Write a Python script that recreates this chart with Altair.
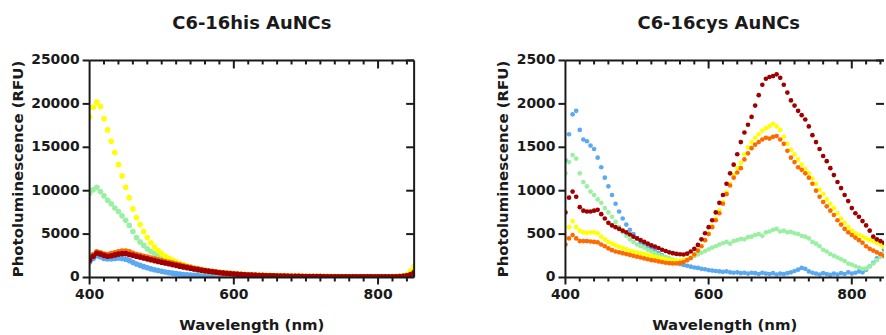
import altair as alt
import pandas as pd

wl = list(range(400, 855, 5))  # 91 wavelengths, nm

series_names = ["s1", "s2", "s3", "s4", "s5"]
series_colors = ["#5aa9f2", "#9af0a2", "#ffff00", "#ff6a00", "#a00000"]

# ---------------- C6-16his AuNCs ----------------
his_blue = [1800, 2200, 2500, 2400, 2200, 2150, 2150, 2200, 2250, 2200,
            2100, 1950, 1750, 1550, 1400, 1250, 1120, 1000, 900, 800,
            710, 630, 560, 500, 440, 390, 350, 310, 280, 250,
            220, 200, 180, 165, 150, 135, 120, 110, 100, 92,
            85, 80, 75, 70, 66, 62, 60, 58, 55, 53,
            52, 50, 49, 48, 47, 46, 45, 44, 43, 42,
            42, 41, 40, 40, 39, 39, 38, 38, 38, 37,
            37, 37, 36, 36, 36, 36, 35, 35, 35, 35,
            35, 36, 37, 40, 45, 55, 70, 100, 160, 250,
            350]
his_green = [9700, 10100, 10400, 9900, 9400, 8900, 8500, 8000, 7600, 7100,
             6600, 6000, 5300, 4600, 4100, 3700, 3300, 3000, 2750, 2500,
             2300, 2100, 1900, 1720, 1560, 1420, 1290, 1170, 1060, 960,
             870, 790, 720, 660, 600, 550, 500, 460, 420, 390,
             360, 335, 310, 290, 270, 255, 240, 225, 210, 200,
             180, 170, 160, 150, 145, 140, 135, 130, 125, 120,
             115, 110, 108, 105, 102, 100, 98, 96, 94, 92,
             90, 88, 87, 86, 85, 84, 83, 82, 81, 80,
             80, 80, 82, 85, 90, 100, 120, 160, 250, 450,
             800]
his_yellow = [18500, 19600, 20200, 19700, 18300, 17000, 15700, 14400, 13000, 11700,
              10400, 9200, 7900, 6900, 6100, 5300, 4600, 4000, 3500, 3100,
              2750, 2450, 2200, 2000, 1800, 1620, 1460, 1320, 1200, 1090,
              990, 900, 820, 750, 690, 630, 580, 540, 500, 470,
              440, 410, 380, 355, 330, 310, 290, 270, 255, 240,
              225, 210, 200, 190, 180, 170, 160, 150, 145, 140,
              135, 130, 125, 120, 115, 112, 110, 108, 105, 102,
              100, 98, 96, 94, 92, 90, 88, 87, 86, 85,
              84, 84, 86, 90, 96, 108, 130, 180, 350, 750,
              1300]
his_orange = [2200, 2600, 2950, 2850, 2700, 2650, 2750, 2850, 2950, 3050,
              3050, 2950, 2800, 2650, 2550, 2450, 2350, 2250, 2150, 2050,
              1950, 1850, 1750, 1650, 1550, 1450, 1350, 1250, 1160, 1070,
              990, 910, 840, 770, 710, 650, 600, 550, 510, 470,
              430, 400, 370, 340, 315, 295, 275, 255, 240, 225,
              210, 195, 185, 175, 165, 155, 148, 140, 134, 128,
              122, 116, 110, 106, 102, 98, 95, 92, 90, 88,
              86, 84, 82, 80, 79, 78, 77, 76, 75, 74,
              74, 74, 75, 78, 82, 90, 105, 135, 200, 350,
              600]
his_darkred = [2000, 2450, 2800, 2700, 2550, 2450, 2500, 2600, 2700, 2750,
               2750, 2650, 2550, 2450, 2350, 2250, 2150, 2050, 1950, 1850,
               1760, 1670, 1580, 1490, 1400, 1310, 1220, 1140, 1060, 980,
               910, 840, 770, 710, 650, 600, 550, 505, 465, 430,
               400, 370, 340, 315, 290, 270, 252, 236, 222, 208,
               195, 183, 172, 162, 153, 145, 138, 131, 125, 119,
               114, 109, 104, 100, 96, 93, 90, 88, 86, 84,
               82, 80, 78, 77, 76, 75, 74, 73, 72, 71,
               70, 70, 72, 75, 80, 88, 100, 130, 190, 320,
               550]

# ---------------- C6-16cys AuNCs ----------------
cys_blue = [1350, 1650, 1880, 1920, 1700, 1590, 1570, 1520, 1480, 1380,
            1270, 1150, 1050, 950, 850, 760, 680, 610, 550, 500,
            450, 410, 380, 355, 330, 305, 280, 255, 230, 205,
            185, 170, 155, 145, 135, 125, 115, 110, 100, 95,
            85, 80, 75, 70, 65, 70, 60, 55, 60, 50,
            55, 45, 55, 50, 40, 55, 45, 40, 50, 35,
            45, 40, 50, 60, 75, 90, 110, 100, 70, 55,
            45, 35, 50, 40, 30, 45, 35, 50, 40, 60,
            45, 55, 70, 60, 90, 130, 170, 220, 270, 320,
            380]
cys_green = [1200, 1330, 1410, 1370, 1200, 1100, 1050, 990, 950, 900,
             860, 800, 750, 700, 640, 580, 520, 480, 440, 410,
             380, 360, 345, 320, 300, 280, 260, 245, 235, 220,
             205, 195, 185, 185, 200, 225, 245, 265, 285, 305,
             325, 345, 360, 380, 395, 410, 390, 420, 430, 445,
             440, 465, 470, 490, 500, 480, 520, 530, 550, 560,
             530, 540, 520, 525, 510, 500, 480, 470, 450, 410,
             390, 360, 320, 300, 270, 250, 230, 210, 190, 160,
             150, 130, 115, 100, 105, 130, 160, 200, 240, 280,
             320]
cys_yellow = [460, 580, 650, 580, 540, 520, 515, 520, 520, 510,
              470, 440, 410, 390, 370, 355, 340, 325, 310, 300,
              290, 280, 270, 260, 250, 240, 230, 220, 210, 200,
              195, 192, 195, 200, 210, 230, 265, 310, 365, 430,
              510, 590, 680, 770, 870, 980, 1080, 1180, 1260, 1320,
              1420, 1500, 1560, 1610, 1650, 1690, 1720, 1740, 1770, 1740,
              1700, 1620, 1540, 1470, 1420, 1360, 1300, 1250, 1200, 1140,
              1080, 1010, 960, 900, 850, 800, 740, 680, 630, 580,
              540, 510, 490, 470, 450, 430, 420, 400, 380, 350,
              330]
cys_orange = [380, 450, 490, 450, 420, 420, 420, 415, 410, 405,
              380, 360, 335, 315, 300, 290, 280, 270, 260, 250,
              240, 230, 220, 210, 200, 195, 185, 178, 170, 165,
              162, 162, 168, 178, 200, 225, 265, 310, 360, 430,
              500, 580, 660, 740, 850, 960, 1060, 1150, 1210, 1260,
              1360, 1430, 1490, 1530, 1560, 1590, 1610, 1600, 1620, 1630,
              1590, 1540, 1460, 1380, 1330, 1270, 1240, 1200, 1150, 1080,
              1000, 930, 870, 820, 770, 720, 660, 610, 560, 520,
              490, 460, 430, 400, 360, 330, 310, 290, 270, 250,
              240]
cys_darkred = [750, 920, 990, 930, 810, 770, 760, 760, 770, 780,
               730, 680, 630, 600, 580, 560, 540, 520, 495, 470,
               450, 430, 410, 390, 370, 355, 340, 320, 305, 290,
               280, 272, 268, 265, 275, 300, 330, 375, 440, 510,
               580, 660, 750, 860, 950, 1080, 1200, 1300, 1420, 1560,
               1670, 1760, 1850, 1980, 2100, 2220, 2290, 2310, 2320, 2340,
               2300, 2220, 2130, 2040, 1980, 1920, 1870, 1820, 1740, 1640,
               1560, 1480, 1400, 1340, 1260, 1180, 1100, 1030, 950, 880,
               800, 740, 700, 650, 600, 540, 470, 440, 420, 400,
               390]

# tick positions / labels
x_labels = [400, 600, 800]
x_minor = [420, 440, 460, 480, 500, 520, 540, 560, 580, 620, 640, 660, 680,
           700, 720, 740, 760, 780, 820, 840]
x_top_major = [600, 800]
his_yticks = [0, 5000, 10000, 15000, 20000, 25000]
cys_yticks = [0, 500, 1000, 1500, 2000, 2500]
x_title = "Wavelength (nm)"
y_title = "Photoluminescence (RFU)"

FONT = "DejaVu Sans"
INK = "#1a1a1a"
H = 218


def panel(series_lists, title, ymax, yticks, xmax, width, title_dx, psize,
          ytitle_x, full_frame):
    xs = alt.Scale(domain=[400, xmax], nice=False, zero=False)
    ys = alt.Scale(domain=[0, ymax], nice=False)
    X = lambda: alt.X("wl:Q", scale=xs, axis=None)
    Y = lambda: alt.Y("val:Q", scale=ys, axis=None)

    rows = []
    for k, (name, vals) in enumerate(zip(series_names, series_lists)):
        for w, v in zip(wl, vals):
            rows.append({"wl": w, "val": v, "series": name, "ord": k})
    pts = alt.Chart(pd.DataFrame(rows)).mark_circle(size=psize, opacity=1, clip=True).encode(
        x=X(), y=Y(),
        color=alt.Color("series:N", scale=alt.Scale(domain=series_names, range=series_colors), legend=None),
        order=alt.Order("ord:Q"),
    )

    xl = pd.DataFrame({"wl": x_labels})
    xm = pd.DataFrame({"wl": [t for t in x_minor if t <= xmax]})
    xt = pd.DataFrame({"wl": x_top_major})
    yl = pd.DataFrame({"val": yticks})
    yr = pd.DataFrame({"val": yticks[1:]})
    one = pd.DataFrame({"k": [0]})
    rule = dict(color=INK, strokeWidth=2)

    def vtick(d, length, ypos):
        return alt.Chart(d).mark_tick(color=INK, thickness=2, size=length, orient="vertical",
                                      opacity=1).encode(x=X(), y=alt.value(ypos))

    def htick(d, length, xpos):
        return alt.Chart(d).mark_tick(color=INK, thickness=2, size=length, orient="horizontal",
                                      opacity=1).encode(y=Y(), x=alt.value(xpos))

    layers = [
        pts,
        # tick marks
        vtick(xl, 7, H + 3.5),
        vtick(xm, 4, H + 2),
        vtick(xm, 4, 2),
        vtick(xt, 8, 4),
        htick(yl, 7, -3.5),
        htick(yr, 8, width - 4),
        # frame (left, bottom, top)
        alt.Chart(one).mark_rule(**rule).encode(x=alt.value(0), y=alt.value(0), y2=alt.value(H)),
        alt.Chart(one).mark_rule(**rule).encode(x=alt.value(0), x2=alt.value(width), y=alt.value(H)),
        alt.Chart(one).mark_rule(**rule).encode(x=alt.value(0), x2=alt.value(width), y=alt.value(0)),
        # tick labels
        alt.Chart(xl).mark_text(font=FONT, fontWeight="bold", fontSize=14, color=INK,
                                baseline="middle", align="center").encode(
            x=X(), y=alt.value(H + 18), text=alt.Text("wl:Q", format="d")),
        alt.Chart(yl).mark_text(font=FONT, fontWeight="bold", fontSize=14, color=INK,
                                baseline="middle", align="right").encode(
            y=Y(), x=alt.value(-10), text=alt.Text("val:Q", format="d")),
        # axis titles
        alt.Chart(one).mark_text(font=FONT, fontWeight="bold", fontSize=15, color=INK,
                                 baseline="middle", align="center").encode(
            x=alt.value(width / 2), y=alt.value(H + 48), text=alt.value(x_title)),
        alt.Chart(one).mark_text(font=FONT, fontWeight="bold", fontSize=15, color=INK,
                                 baseline="middle", align="center", angle=270).encode(
            x=alt.value(ytitle_x), y=alt.value(H / 2), text=alt.value(y_title)),
    ]
    if full_frame:
        layers.append(alt.Chart(one).mark_rule(**rule).encode(
            x=alt.value(width), y=alt.value(0), y2=alt.value(H)))

    return alt.layer(*layers).properties(
        width=width, height=H,
        title=alt.TitleParams(title, font=FONT, fontSize=18, fontWeight="bold", color=INK,
                              anchor="middle", offset=21, dx=title_dx),
    )


left = panel([his_blue, his_green, his_yellow, his_orange, his_darkred],
             "C6-16his AuNCs", 25000, his_yticks, 850, 326, 0, 32, -72, True)
right = panel([cys_blue, cys_green, cys_yellow, cys_orange, cys_darkred],
              "C6-16cys AuNCs", 2500, cys_yticks, 845, 320, -6, 22, -63, False)

chart = alt.hconcat(left, right, spacing=79).properties(
    padding={"left": 10, "top": 13, "right": 0, "bottom": 0},
    background="white",
).configure_view(stroke="transparent")

chart.save("out.html", embed_options={"renderer": "svg", "actions": False})
